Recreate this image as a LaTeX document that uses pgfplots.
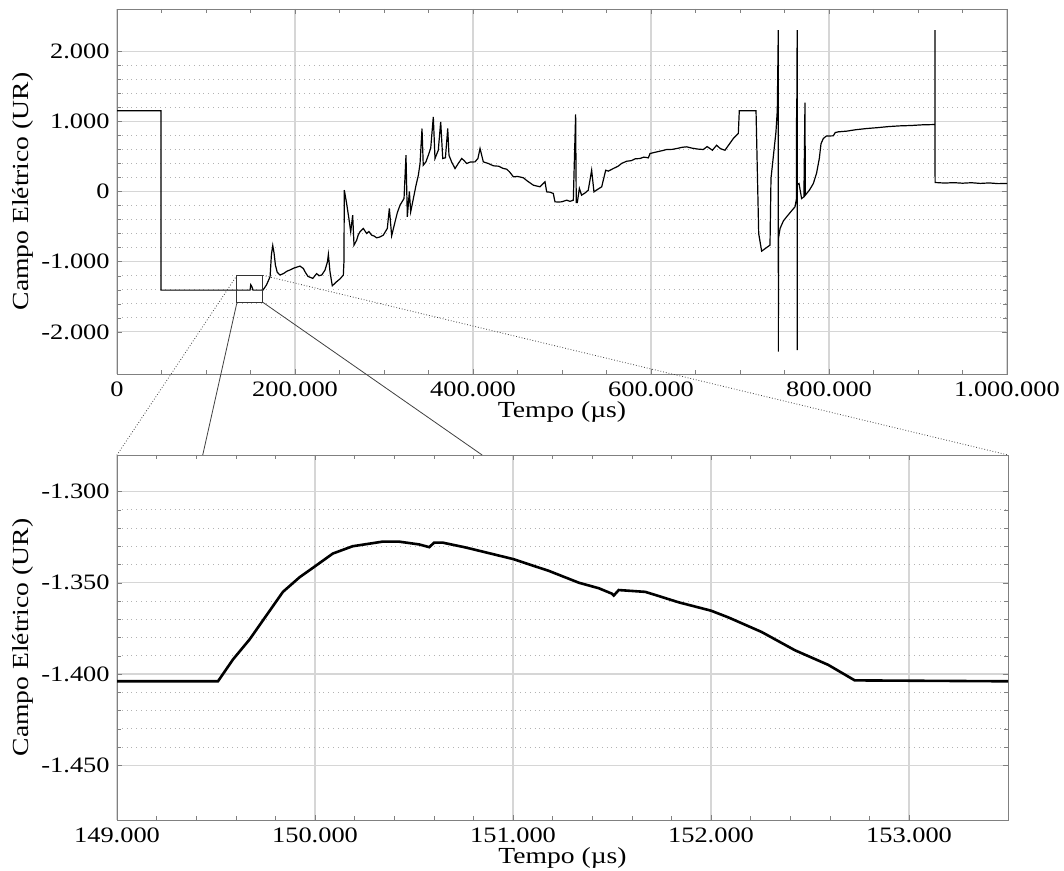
\documentclass[border=0pt]{standalone}
\usepackage{fontspec}
\setmainfont{Liberation Serif}[FakeStretch=1.2]
\usepackage{pgfplots}
\pgfplotsset{compat=1.18}
\pgfplotsset{
  myaxis/.style={
    scale only axis,
    axis line style={black!50},
    tick style={black!50},
    tick align=inside,
    major tick length=2.5pt,
    minor tick length=1.8pt,
    xmajorgrids, ymajorgrids, yminorgrids,
    major grid style={black!16, line width=0.55pt},
    minor grid style={black!30, dotted, line width=0.45pt},
    scaled ticks=false,
    /pgf/number format/fixed,
    /pgf/number format/1000 sep={.},
    /pgf/number format/assume math mode=true,
    tick label style={font=\fontsize{11}{13}\selectfont, text=black},
    xticklabel style={anchor=base, yshift=-11.5pt, inner sep=0pt},
    yticklabel style={anchor=east, xshift=-3.5pt, inner sep=0pt},
    every axis x label/.style={at={(axis description cs:0.5,0)}, anchor=base, yshift=-22pt, font=\fontsize{11.5}{13}\selectfont},
    every axis y label/.style={at={(axis description cs:0,0.5)}, xshift=-47pt, rotate=90, anchor=center, font=\fontsize{11.5}{13}\selectfont},
  }
}
\begin{document}
\begin{tikzpicture}
\path[use as bounding box] (0,0) rectangle (532pt,435.5pt);
\begin{axis}[myaxis, name=top,
  at={(58.5pt,248.5pt)}, anchor=south west,
  width=445pt, height=182.5pt,
  xmin=0, xmax=1000000, ymin=-2600, ymax=2600,
  xtick={0,200000,400000,600000,800000,1000000},
  ytick={-2000,-1000,0,1000,2000},
  minor x tick num=3, minor y tick num=4,
  xlabel={Tempo (µs)}, ylabel={Campo Elétrico (UR)}]
\addplot[black, line width=0.6pt] coordinates {
(0,1150)(49400,1150)(49500,-1405)(149500,-1405)(150300,-1328)(151500,-1355)(152800,-1405)
(164000,-1405)(168000,-1330)(172000,-1215)(173500,-900)(175000,-770)(176500,-880)(178000,-1050)(180000,-1150)(183000,-1190)
(187000,-1170)(191000,-1135)(194000,-1120)(199000,-1090)(205600,-1063)(209300,-1096)(212000,-1160)(214600,-1210)(220000,-1238)(224300,-1170)
(227000,-1200)(230000,-1190)(233700,-1120)(236500,-1000)(237500,-897)(239300,-1143)(241900,-1343)
(246800,-1285)(251000,-1240)(254300,-1190)(255000,-1000)(255400,20)(256500,-60)(258000,-171)(260500,-380)(262600,-574)
(264800,-337)(266300,-764)(269300,-693)(271000,-620)(273000,-574)(276800,-527)(280500,-598)(283000,-570)
(286100,-622)(289000,-635)(291700,-660)(295000,-650)(299200,-622)(303700,-527)(306000,-242)(308600,-631)
(312400,-432)(315000,-300)(318000,-195)(322500,-100)(324700,517)(326200,-360)(328500,0)
(330000,-290)(333000,-100)(336000,90)(338600,232)(340500,400)(342700,897)(344100,375)(347000,420)(349800,517)
(352500,620)(355400,1063)(357300,470)(361000,588)(363700,992)(366000,470)(369000,480)(371600,897)
(373000,517)(376000,420)(379800,327)(383500,400)(387300,470)(390000,440)(392900,399)(397000,420)(402300,422)(405500,470)(407900,612)
(411600,422)(417000,400)(422900,366)(429000,360)(433500,330)(437900,318)(441000,280)(445400,209)(450000,215)(456600,195)(461000,150)(467800,90)
(471000,80)(475300,67)(480900,138)(482800,-5)(486500,-10)(490200,-28)(492100,-147)(496000,-150)(499600,-147)
(505300,-124)(509000,-140)(512700,-124)(515300,1100)(516000,-157)(517200,-157)(519500,43)
(522000,-52)(526000,-20)(529500,19)(533300,303)(535900,-5)(540000,30)(544600,67)(549100,303)
(552000,290)(557600,327)(563000,360)(567000,400)(572600,431)(578000,440)(582000,465)(587600,470)(592000,490)(597000,479)(598900,541)(605000,560)(612000,580)(617600,598)
(624000,600)(630000,615)(635000,630)(640100,636)(646000,618)(652000,605)(658800,598)(663000,640)(669000,588)(673700,659)(678000,610)(683100,588)(692500,755)
(698100,826)(699200,1149)(718000,1149)(721000,-600)(724300,-850)(733700,-764)
(734800,185)(740400,850)(741900,1157)(743000,2300)(743100,-2280)(743200,-669)
(745000,-527)(748700,-420)(752400,-360)(757000,-290)(761800,-218)(763500,-100)(763600,1324)(763700,100)
(764200,2300)(764300,-2260)(764400,100)(766300,114)(769200,-100)(771800,-76)
(773000,1267)(773400,-52)(778000,20)(782400,114)(786000,260)(789100,470)(791000,680)(793600,755)(797000,790)
(804800,793)(807000,840)(810500,850)(820000,860)(830000,880)(842300,897)(855000,910)(867000,925)(879800,935)(892000,940)(905000,950)(919000,954)(919100,2300)
(919200,128)(930000,120)(940000,126)(950000,118)(960000,125)(970000,115)(980000,122)(990000,112)(1000000,114)
};
\draw[black!80, line width=0.5pt] (axis cs:134800,-1195) rectangle (axis cs:164000,-1580);
\coordinate (bTL) at (axis cs:134800,-1195);
\coordinate (bTR) at (axis cs:164000,-1195);
\coordinate (bBL) at (axis cs:134800,-1580);
\coordinate (bBR) at (axis cs:164000,-1580);
\end{axis}
\begin{axis}[myaxis, name=bot,
  at={(58.5pt,25.5pt)}, anchor=south west,
  width=445.5pt, height=182.5pt,
  xmin=149000, xmax=153500, ymin=-1480, ymax=-1280,
  xtick={149000,150000,151000,152000,153000},
  ytick={-1450,-1400,-1350,-1300},
  minor x tick num=4, minor y tick num=4,
  xlabel={Tempo (µs)}, ylabel={Campo Elétrico (UR)}]
\addplot[black, line width=1.3pt] coordinates {
(149000,-1404)(149510,-1404)(149586,-1392)(149670,-1381)(149754,-1368)(149838,-1355)
(149922,-1347)(150000,-1341)(150090,-1334)(150190,-1330)(150340,-1327.5)(150426,-1327.5)
(150526,-1329)(150577,-1330.5)(150602,-1328)(150644,-1328)(150762,-1330.7)(151000,-1337)
(151181,-1343.5)(151333,-1350)(151433,-1353)(151500,-1356)(151509,-1357)(151534,-1354)
(151668,-1355)(151719,-1356.7)(151836,-1360.7)(152000,-1365.3)(152088,-1369)(152256,-1377)
(152424,-1387)(152592,-1395)(152726,-1403.5)(153500,-1404)
};
\coordinate (zA) at (axis cs:149433,-1280);
\coordinate (zB) at (axis cs:150844,-1280);
\end{axis}
\draw[black!75, line width=0.4pt, densely dotted] (bTL) -- (bot.north west);
\draw[black!75, line width=0.4pt] (bBL) -- (zA);
\draw[black!75, line width=0.4pt] (bBR) -- (zB);
\draw[black!75, line width=0.4pt, densely dotted] (bTR) -- (bot.north east);
\end{tikzpicture}
\end{document}
